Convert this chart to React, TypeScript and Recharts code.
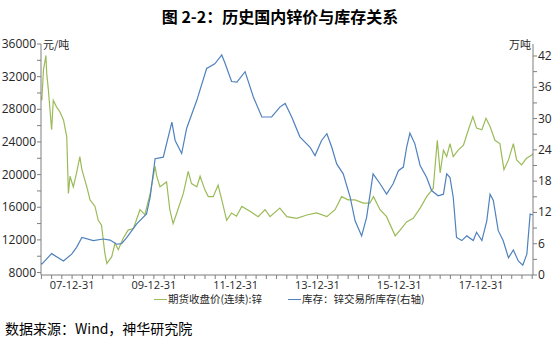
import { Line, LineChart, XAxis, YAxis } from "recharts"

// 期货收盘价(连续):锌  (元/吨)
const priceYears = [
  2007.24, 2007.26, 2007.3, 2007.36, 2007.38, 2007.42, 2007.5, 2007.54, 2007.62, 2007.7, 2007.79, 2007.87, 2007.91,
  2007.95, 2008.03, 2008.11, 2008.19, 2008.24, 2008.36, 2008.44, 2008.56, 2008.64, 2008.72, 2008.8, 2008.85, 2008.97,
  2009.05, 2009.13, 2009.25, 2009.37, 2009.5, 2009.66, 2009.78, 2009.91, 2010.03, 2010.07, 2010.15, 2010.31, 2010.39,
  2010.47, 2010.56, 2010.72, 2010.84, 2010.92, 2011.05, 2011.13, 2011.25, 2011.33, 2011.45, 2011.57, 2011.66, 2011.78,
  2011.9, 2012.02, 2012.15, 2012.35, 2012.55, 2012.72, 2012.84, 2013.08, 2013.25, 2013.49, 2013.74, 2013.98, 2014.23,
  2014.43, 2014.59, 2014.75, 2014.92, 2015.12, 2015.28, 2015.37, 2015.53, 2015.69, 2015.9, 2016.02, 2016.18, 2016.34,
  2016.51, 2016.67, 2016.83, 2016.93, 2017.0, 2017.08, 2017.16, 2017.24, 2017.32, 2017.44, 2017.57, 2017.69, 2017.8,
  2017.89, 2018.02, 2018.12, 2018.22, 2018.34, 2018.46, 2018.56, 2018.67, 2018.79, 2018.87, 2018.99, 2019.11, 2019.24,
  2019.27,
]
const priceValues = [
  29600, 29100, 32800, 34600, 32400, 30400, 25500, 29100, 28300, 27700, 26700, 24600, 17700,
  19800, 18500, 20200, 22200, 20600, 18500, 16900, 16100, 14400, 13800, 10400, 9100, 9950,
  11600, 10800, 12200, 13200, 13400, 15700, 15100, 17700, 21000, 19800, 18500, 19100, 15700,
  14000, 15300, 17700, 20400, 18900, 18500, 19800, 18100, 17300, 17300, 18700, 16900, 14400,
  15300, 14900, 16100, 15500, 14850, 15700, 14850, 15900, 14850, 14650, 15050, 15300, 14850,
  15700, 17300, 16900, 16900, 16500, 16500, 17300, 15700, 14850, 12500, 13200, 14200, 14650,
  15900, 17300, 18300, 24200, 20200, 23000, 22200, 23800, 22200, 23000, 23600, 25500, 27100,
  25700, 25500, 26900, 25900, 24200, 23800, 20600, 21800, 23800, 21800, 21200, 22000, 22400,
  22600,
]

// 库存：锌交易所库存(右轴)  (万吨)
const stockYears = [
  2007.24, 2007.26, 2007.5, 2007.79, 2007.99, 2008.11, 2008.24, 2008.52, 2008.76, 2008.93, 2009.09, 2009.21, 2009.34,
  2009.58, 2009.82, 2009.91, 2010.03, 2010.23, 2010.44, 2010.52, 2010.68, 2010.8, 2011.05, 2011.29, 2011.49, 2011.66,
  2011.74, 2011.9, 2012.03, 2012.23, 2012.43, 2012.64, 2012.88, 2013.08, 2013.21, 2013.37, 2013.57, 2013.82, 2013.94,
  2014.1, 2014.23, 2014.35, 2014.47, 2014.63, 2014.8, 2014.92, 2015.08, 2015.2, 2015.36, 2015.53, 2015.69, 2015.85,
  2015.98, 2016.1, 2016.18, 2016.26, 2016.38, 2016.51, 2016.67, 2016.79, 2016.95, 2017.08, 2017.16, 2017.24, 2017.32,
  2017.4, 2017.53, 2017.65, 2017.81, 2017.89, 2018.02, 2018.14, 2018.22, 2018.3, 2018.42, 2018.54, 2018.67, 2018.79,
  2018.91, 2019.02, 2019.12, 2019.2, 2019.27,
]
const stockValues = [
  2.3, 2.1, 4.1, 2.7, 4.0, 5.3, 7.2, 6.6, 6.9, 6.7, 5.9, 6.0, 7.2,
  9.8, 11.7, 15.0, 22.3, 22.6, 29.3, 25.8, 23.3, 28.1, 33.5, 39.6, 40.5, 42.2,
  40.6, 37.1, 37.0, 39.0, 34.2, 30.3, 30.3, 32.2, 32.9, 30.3, 26.5, 24.5, 22.9,
  25.8, 27.1, 24.5, 21.3, 19.4, 14.9, 10.4, 7.5, 11.0, 19.4, 17.5, 15.5, 17.5,
  20.0, 20.7, 24.5, 27.2, 25.2, 21.0, 18.7, 16.2, 15.2, 15.5, 19.4, 18.7, 14.9,
  7.2, 6.6, 7.5, 6.6, 8.2, 6.6, 10.4, 15.5, 14.3, 8.5, 6.6, 3.3, 4.8,
  2.7, 1.9, 4.0, 11.7, 11.5,
]

const xLabelYears = [2008, 2010, 2012, 2014, 2016, 2018]
const xLabels = ["07-12-31", "09-12-31", "11-12-31", "13-12-31", "15-12-31", "17-12-31"]
const leftLabels = [8000, 12000, 16000, 20000, 24000, 28000, 32000, 36000]
const rightLabels = [0, 6, 12, 18, 24, 30, 36, 42]

const priceData = priceYears.map((t, i) => ({ t, price: priceValues[i] }))
const stockData = stockYears.map((t, i) => ({ t, stock: stockValues[i] }))

// quarterly minor ticks on the date axis, half steps on the value axes
const xTicks: number[] = []
for (let q = 0; q <= 48; q++) xTicks.push(2007.25 + q * 0.25)
const leftTicks: number[] = []
for (let v = 8000; v <= 36000; v += 2000) leftTicks.push(v)
const rightTicks: number[] = []
for (let v = 0; v <= 42; v += 3) rightTicks.push(v)

const GREEN = "#9bbb59"
const BLUE = "#4f81bd"
const AXIS = "#7f7f7f"
const TEXT = "#262626"
const FONT = "'Open Sans', 'Noto Sans CJK SC', sans-serif"
const CJK = "'Noto Sans CJK SC', sans-serif"

const XTick = (props: any) => {
  const { x, y, payload } = props
  const idx = xLabelYears.findIndex((v) => Math.abs(v - payload.value) < 0.01)
  if (idx < 0) return null
  return (
    <text x={x} y={y} dy={8} textAnchor="middle" fontSize={11} fill={TEXT} fontFamily={FONT}>
      {xLabels[idx]}
    </text>
  )
}

const YTick = (props: any) => {
  const { x, y, payload, textAnchor, labels } = props
  if (!labels.includes(payload.value)) return null
  return (
    <text x={x} y={y} dy={4} textAnchor={textAnchor} fontSize={12} fill={TEXT} fontFamily={FONT}>
      {payload.value}
    </text>
  )
}

const legendItem = (color: string, left: number, label: string) => (
  <div style={{ position: "absolute", top: 293, left, display: "flex", alignItems: "center", lineHeight: "12px", fontFamily: CJK, fontSize: 10.5, color: TEXT, whiteSpace: "nowrap" }}>
    <span style={{ display: "inline-block", width: 13, height: 0, borderTop: `1.5px solid ${color}`, marginRight: 1 }} />
    {label}
  </div>
)

export default function App() {
  return (
    <div style={{ position: "absolute", left: 0, top: 0, width: 560, height: 343, background: "#fff" }}>
      <LineChart width={560} height={343} margin={{ top: 44, right: 0, bottom: 38, left: 0 }}>
        <XAxis
          type="number"
          dataKey="t"
          domain={[2007.24, 2019.27]}
          allowDataOverflow
          ticks={xTicks}
          interval={0}
          tick={<XTick />}
          tickSize={4}
          height={30}
          stroke={AXIS}
        />
        <YAxis
          yAxisId="left"
          domain={[7700, 36000]}
          allowDataOverflow
          ticks={leftTicks}
          interval={0}
          tick={<YTick labels={leftLabels} />}
          tickSize={4}
          tickMargin={1}
          width={41}
          stroke={AXIS}
        />
        <YAxis
          yAxisId="right"
          orientation="right"
          domain={[0, 44.3]}
          allowDataOverflow
          ticks={rightTicks}
          interval={0}
          tick={<YTick labels={rightLabels} />}
          tickSize={4}
          tickMargin={1}
          width={27}
          stroke={AXIS}
        />
        <Line
          data={priceData}
          yAxisId="left"
          dataKey="price"
          type="linear"
          stroke={GREEN}
          strokeWidth={1.2}
          dot={false}
          isAnimationActive={false}
        />
        <Line
          data={stockData}
          yAxisId="right"
          dataKey="stock"
          type="linear"
          stroke={BLUE}
          strokeWidth={1.2}
          dot={false}
          isAnimationActive={false}
        />
      </LineChart>

      <div style={{ position: "absolute", top: 4, left: 0, width: 560, textAlign: "center", fontFamily: CJK, fontWeight: 700, fontSize: 16, color: "#000" }}>
        图 2-2：历史国内锌价与库存关系
      </div>
      <div style={{ position: "absolute", top: 36, left: 43, fontFamily: CJK, fontSize: 11, color: TEXT }}>元/吨</div>
      <div style={{ position: "absolute", top: 36, left: 509, fontFamily: CJK, fontSize: 11, color: TEXT }}>万吨</div>

      {legendItem(GREEN, 154, "期货收盘价(连续):锌")}
      {legendItem(BLUE, 288, "库存：锌交易所库存(右轴)")}

      <div style={{ position: "absolute", top: 318, left: 5, fontFamily: CJK, fontSize: 14, color: "#000" }}>
        数据来源：Wind，神华研究院
      </div>
    </div>
  )
}
